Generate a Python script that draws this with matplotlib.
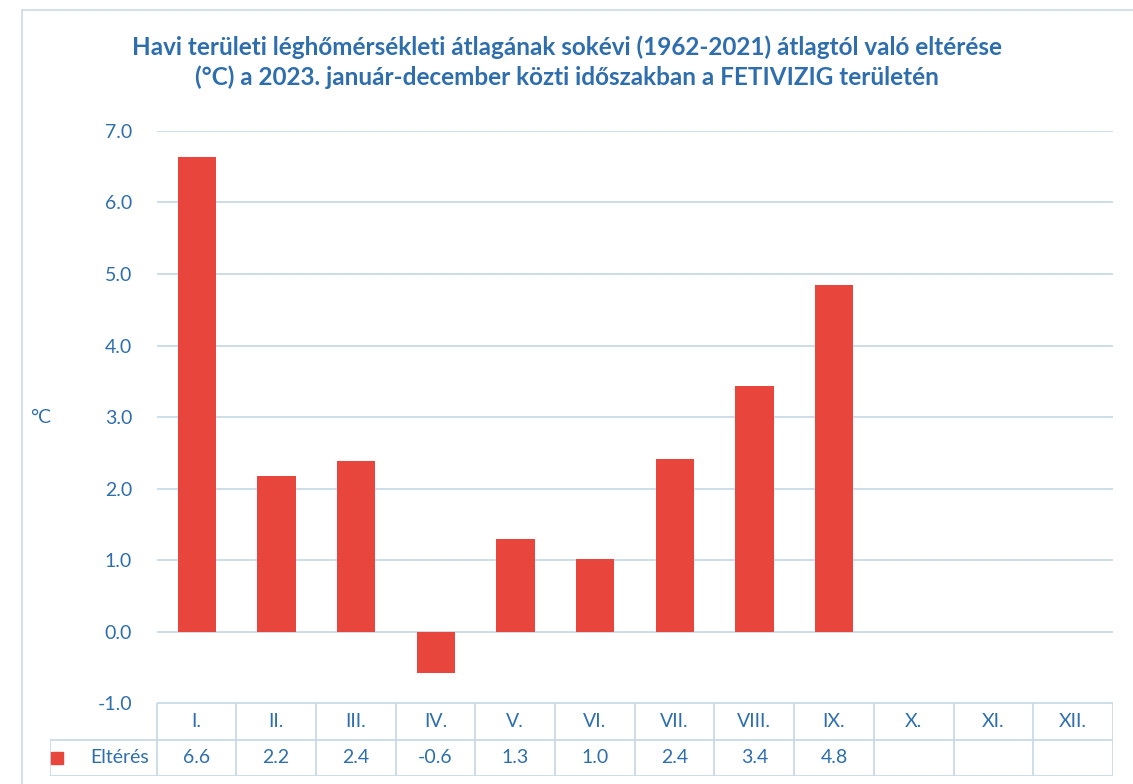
import matplotlib.pyplot as plt
from matplotlib.patches import Rectangle

months = ['I.', 'II.', 'III.', 'IV.', 'V.', 'VI.', 'VII.', 'VIII.', 'IX.', 'X.', 'XI.', 'XII.']
values = [6.64, 2.18, 2.38, -0.58, 1.29, 1.01, 2.42, 3.43, 4.84]
series_name = 'Eltérés'
yticks = [-1, 0, 1, 2, 3, 4, 5, 6, 7]

blue = '#2F6EAD'
grid = '#C8DAE8'
red = '#E8463D'

plt.rcParams['font.family'] = ['Lato', 'DejaVu Sans']

fig = plt.figure(figsize=(11.33, 7.84), dpi=100)
ax = fig.add_axes([0.1386, 0.103, 0.8436, 0.730])

n = len(months)
ax.bar(range(len(values)), values, width=0.48, color=red, zorder=3)
ax.set_xlim(-0.5, n - 0.5)
ax.set_ylim(-1, 7)
ax.set_yticks(yticks)
ax.set_yticklabels([f'{t:.1f}' for t in yticks], color=blue, fontsize=14)
ax.tick_params(axis='y', length=0, pad=18)
ax.set_xticks([])
for s in ax.spines.values():
    s.set_visible(False)
for t in yticks:
    ax.axhline(t, color=grid, lw=1.3, zorder=1)

ax.set_ylabel('°C', rotation=0, color=blue, fontsize=14, va='center', ha='center')
ax.yaxis.set_label_coords(-0.122, 0.5)

# data table below the plot, drawn on its own axes sharing the month positions
label_w = 107 / 80
tx = fig.add_axes([0.0441, 0.0099, 0.9382, 0.0931])
tx.set_xlim(-0.5 - label_w, n - 0.5)
tx.set_ylim(0, 2)
tx.axis('off')
tx.hlines([2], -0.5, n - 0.5, color=grid, lw=1.3)
tx.hlines([1, 0], -0.5 - label_w, n - 0.5, color=grid, lw=1.3)
tx.vlines([j - 0.5 for j in range(n + 1)], 0, 2, color=grid, lw=1.3)
tx.vlines([-0.5 - label_w], 0, 1, color=grid, lw=1.3)
for j, m in enumerate(months):
    tx.text(j, 1.5, m, ha='center', va='center', color=blue, fontsize=14)
for j, v in enumerate(values):
    tx.text(j, 0.5, f'{v:.1f}', ha='center', va='center', color=blue, fontsize=14)
tx.text(-0.59, 0.5, series_name, ha='right', va='center', color=blue, fontsize=14)
tx.plot([-0.5 - label_w + 0.09], [0.5], marker='s', ms=8, color=red, ls='none')

fig.text(0.5, 1 - 62 / 784,
         'Havi területi léghőmérsékleti átlagának sokévi (1962-2021) átlagtól való eltérése\n'
         '(°C) a 2023. január-december közti időszakban a FETIVIZIG területén',
         ha='center', va='center', color=blue, fontsize=17.5, fontweight='bold',
         linespacing=1.35)

fig.patches.append(Rectangle((0.019, -0.02), 1.0, 1.007, transform=fig.transFigure,
                             fill=False, edgecolor=grid, lw=1.2))

fig.savefig('out.png', dpi=100)
